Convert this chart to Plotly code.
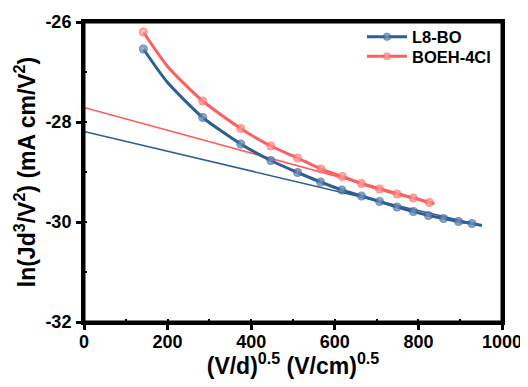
import plotly.graph_objects as go

# L8-BO data
l8_x = [142, 199, 284, 375, 447, 511, 566, 617, 664, 707, 749, 788, 824, 860, 896, 928, 952]
l8_y = [-26.54, -27.20, -27.91, -28.44, -28.77, -29.01, -29.20, -29.36, -29.48, -29.59,
        -29.70, -29.79, -29.87, -29.93, -29.99, -30.03, -30.07]
l8_marked = [1, 0, 1, 1, 1, 1, 1, 1, 1, 1, 1, 1, 1, 1, 1, 1, 0]

# BOEH-4Cl data
bo_x = [142, 201, 284, 375, 447, 511, 567, 618, 664, 707, 749, 788, 826, 838]
bo_y = [-26.20, -26.90, -27.58, -28.13, -28.48, -28.72, -28.94, -29.09, -29.23, -29.34,
        -29.44, -29.52, -29.61, -29.63]
bo_marked = [1, 0, 1, 1, 1, 1, 1, 1, 1, 1, 1, 1, 1, 0]

# linear fits (end points)
l8_fit_x = [0, 952]
l8_fit_y = [-28.19, -30.07]
bo_fit_x = [0, 838]
bo_fit_y = [-27.71, -29.62]

# ticks
x_tickvals = [0, 200, 400, 600, 800, 1000]
x_ticktext = ["0", "200", "400", "600", "800", "1000"]
y_tickvals = [-32, -30, -28, -26]
y_ticktext = ["-32", "-30", "-28", "-26"]

BLUE = "#2E5E96"
RED = "#FF5E5E"
FONT = "Liberation Sans, Arial"

fig = go.Figure()

fig.add_trace(go.Scatter(x=l8_fit_x, y=l8_fit_y, mode="lines",
                         line=dict(color=BLUE, width=1.5), showlegend=False, hoverinfo="skip"))
fig.add_trace(go.Scatter(x=bo_fit_x, y=bo_fit_y, mode="lines",
                         line=dict(color=RED, width=1.5), showlegend=False, hoverinfo="skip"))

fig.add_trace(go.Scatter(
    x=l8_x, y=l8_y, mode="lines+markers", name="L8-BO", legend="legend",
    line=dict(color=BLUE, width=3, shape="spline", smoothing=0.6),
    marker=dict(size=[9 if m else 0 for m in l8_marked], color=BLUE,
                gradient=dict(type="radial", color="#8FA9CC"), line=dict(width=0)),
))
fig.add_trace(go.Scatter(
    x=bo_x, y=bo_y, mode="lines+markers", name="BOEH-4Cl", legend="legend2",
    line=dict(color=RED, width=3, shape="spline", smoothing=0.6),
    marker=dict(size=[9 if m else 0 for m in bo_marked], color=RED,
                gradient=dict(type="radial", color="#FFB5B5"), line=dict(width=0)),
))

tick_font = dict(family=FONT, size=18, color="black", weight="bold")
leg_font = dict(family=FONT, size=16.5, color="black", weight="bold")

# page body has an 8px margin, so the figure is sized and placed to compensate
fig.update_layout(
    width=520, height=371,
    margin=dict(l=76, r=26, t=13, b=57),
    plot_bgcolor="white", paper_bgcolor="white",
    font=dict(family=FONT, color="black"),
    legend=dict(x=0.665, y=1.005, xanchor="left", yanchor="top",
                bgcolor="rgba(0,0,0,0)", itemwidth=40, font=leg_font),
    legend2=dict(x=0.665, y=0.94, xanchor="left", yanchor="top",
                 bgcolor="rgba(0,0,0,0)", itemwidth=40, font=leg_font),
    xaxis=dict(range=[0, 1000], tickmode="array", tickvals=x_tickvals, ticktext=x_ticktext,
               showgrid=False, zeroline=False, automargin=False, ticklabeloverflow="allow",
               showline=True, linecolor="black", linewidth=3, mirror=True,
               ticks="outside", ticklen=5, tickwidth=2.5, tickcolor="black", ticklabelstandoff=-4,
               minor=dict(tickmode="linear", tick0=0, dtick=100, ticks="inside", ticklen=3,
                          tickwidth=2, tickcolor="black"),
               tickfont=tick_font,
               title=dict(text="(V/d)<sup>0.5</sup> (V/cm)<sup>0.5</sup>", standoff=12,
                          font=dict(family=FONT, size=23, color="black", weight="bold"))),
    yaxis=dict(range=[-32, -26], tickmode="array", tickvals=y_tickvals, ticktext=y_ticktext,
               showgrid=False, zeroline=False, automargin=False,
               showline=True, linecolor="black", linewidth=3, mirror=True,
               ticks="outside", ticklen=5, tickwidth=2.5, tickcolor="black", ticklabelstandoff=1,
               minor=dict(tickmode="linear", tick0=-32, dtick=1, ticks="inside", ticklen=3,
                          tickwidth=2, tickcolor="black"),
               tickfont=tick_font,
               title=dict(text="ln(Jd<sup>3</sup>/V<sup>2</sup>) (mA cm/V<sup>2</sup>)", standoff=4,
                          font=dict(family=FONT, size=23, color="black", weight="bold"))),
    shapes=[dict(type="rect", xref="paper", yref="paper", x0=0, x1=1, y0=0, y1=1,
                 line=dict(color="black", width=3), fillcolor="rgba(0,0,0,0)", layer="above")],
)

fig.write_html("out.html")
